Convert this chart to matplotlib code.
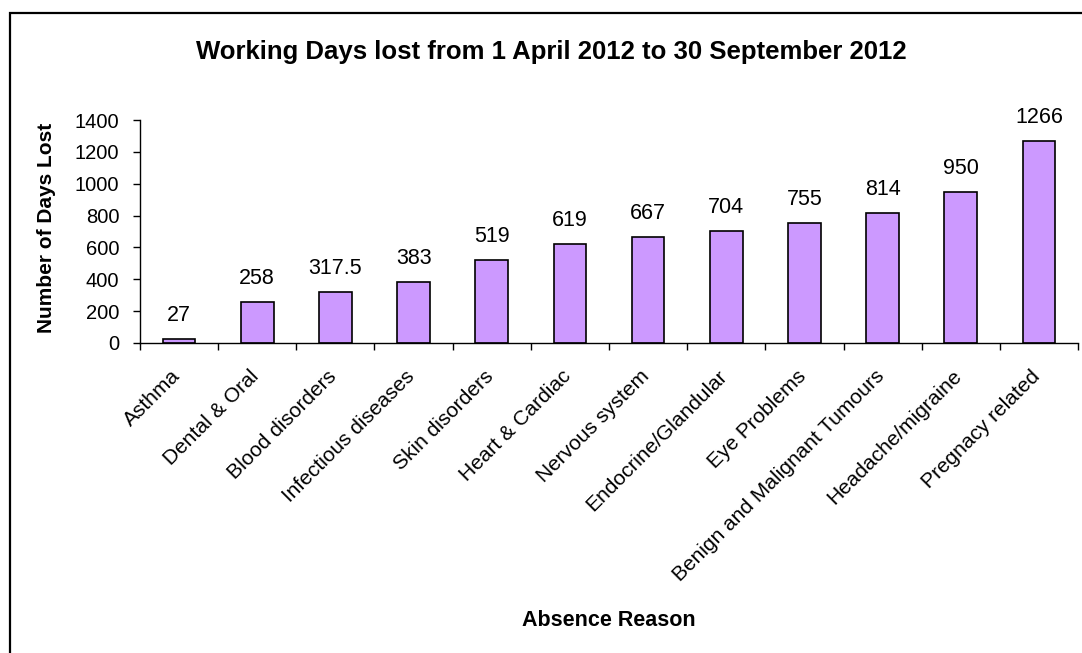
import matplotlib.pyplot as plt
from matplotlib.patches import Rectangle
from matplotlib.transforms import ScaledTranslation

plt.rcParams['font.family'] = ['Liberation Sans', 'DejaVu Sans']

# absence reasons and working days lost (Apr - Sep 2012)
reasons = ['Asthma', 'Dental & Oral', 'Blood disorders', 'Infectious diseases',
           'Skin disorders', 'Heart & Cardiac', 'Nervous system',
           'Endocrine/Glandular', 'Eye Problems', 'Benign and Malignant Tumours',
           'Headache/migraine', 'Pregnacy related']
days_lost = [27, 258, 317.5, 383, 519, 619, 667, 704, 755, 814, 950, 1266]
value_labels = ['27', '258', '317.5', '383', '519', '619', '667', '704',
                '755', '814', '950', '1266']
y_ticks = [0, 200, 400, 600, 800, 1000, 1200, 1400]

fig = plt.figure(figsize=(10.82, 6.53), dpi=100)
ax = fig.add_axes([140 / 1082, 1 - 343 / 653, (1078 - 140) / 1082, (343 - 120) / 653])

x = list(range(len(reasons)))
ax.bar(x, days_lost, width=0.42, color='#CC99FF', edgecolor='black', linewidth=1.2)

for xi, v, lab in zip(x, days_lost, value_labels):
    ax.annotate(lab, (xi, v), xytext=(0, 13), textcoords='offset points',
                ha='center', va='baseline', fontsize=15.5)

ax.set_xlim(-0.5, len(reasons) - 0.5)
ax.set_ylim(0, 1400)
ax.set_yticks(y_ticks)
ax.tick_params(axis='y', labelsize=14.5, length=5, width=1, pad=10)

# category separators as ticks on the x axis
ax.set_xticks([i - 0.5 for i in range(len(reasons) + 1)], minor=False)
ax.set_xticklabels([])
ax.tick_params(axis='x', length=5, width=1)
ax.set_xticks(x, minor=True)
ax.set_xticklabels(reasons, minor=True, rotation=45, ha='right',
                   rotation_mode='anchor', fontsize=15)
ax.tick_params(axis='x', which='minor', length=0, pad=17)
shift = ScaledTranslation(-6 / 72, 0, fig.dpi_scale_trans)
for lbl in ax.get_xticklabels(minor=True):
    lbl.set_transform(lbl.get_transform() + shift)

for side in ['top', 'right']:
    ax.spines[side].set_visible(False)
ax.spines['left'].set_linewidth(1)
ax.spines['bottom'].set_linewidth(1)

fig.text(47 / 1082, 1 - 228 / 653, 'Number of Days Lost', rotation=90,
         ha='center', va='center', fontsize=15, fontweight='bold')
fig.text(609 / 1082, 1 - 620 / 653, 'Absence Reason', ha='center', va='center',
         fontsize=15.5, fontweight='bold')
fig.text(196 / 1082, 1 - 52 / 653, 'Working Days lost from 1 April 2012 to 30 September 2012',
         ha='left', va='center', fontsize=18.5, fontweight='bold')

# chart frame, running off the right and bottom edges
fig.patches.append(Rectangle((10 / 1082, -0.1), 1.2, 1 - 13 / 653 + 0.1,
                             transform=fig.transFigure, fill=False,
                             edgecolor='black', linewidth=1.6))

fig.savefig('out.png', dpi=100)
